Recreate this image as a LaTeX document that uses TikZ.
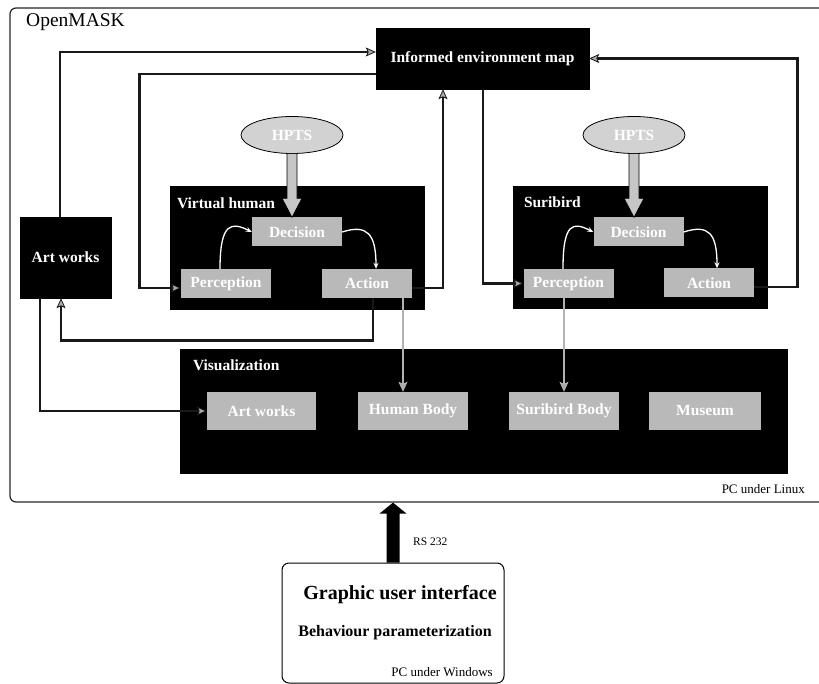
\documentclass[tikz,border=0pt]{standalone}
\usepackage{fontspec}
\setmainfont{Liberation Serif}
\usetikzlibrary{arrows.meta,calc,shapes.geometric}
\newcommand\lblfont{\fontsize{15.5}{17}\selectfont\bfseries}
\begin{document}
\begin{tikzpicture}[x=1pt,y=-1pt,
  bbox/.style={fill=black, draw=black, inner sep=0pt},
  gnode/.style={fill=gray!55, inner sep=0pt, minimum width=90pt, minimum height=29pt, text=white, font=\lblfont},
  hpts/.style={ellipse, fill=gray!35, draw=black, line width=0.8pt, minimum width=102pt, minimum height=37pt, inner sep=0pt, text=white, font=\lblfont},
  ttl/.style={text=white, font=\lblfont, anchor=west, inner sep=0pt},
  plain/.style={inner sep=0pt},
  conn/.style={draw=black!90, line width=2.8pt, -{Stealth[length=10pt,width=9pt,inset=2pt,fill=gray!65,line width=0.8pt]}},
  wcurve/.style={draw=white, line width=1.3pt, -{Stealth[length=6pt,width=5pt]}},
  fat/.style={fill=gray!45, draw=black, line width=0.7pt},
]
\useasboundingbox (0,0) rectangle (819,684);
% outer frame
\node[draw=black!85, line width=1.2pt, rounded corners=6pt, minimum width=830pt, minimum height=494pt, inner sep=0pt] (ob) at (425,255) {};
\node[plain, font=\fontsize{19.5}{21}\selectfont, anchor=west] (om) at (26,22) {OpenMASK};
\node[plain, font=\fontsize{13}{15}\selectfont, anchor=east] (lin) at (805,489) {PC under Linux};

% big black boxes
\node[bbox, minimum width=213pt, minimum height=61pt, text=white, font=\lblfont] (map) at (482.5,58.5) {Informed environment map};
\node[bbox, minimum width=91pt, minimum height=81pt, text=white, font=\lblfont] (art) at (65.5,257.5) {Art works};
\node[bbox, minimum width=254pt, minimum height=123pt] (vh) at (297,247.5) {};
\node[bbox, minimum width=254pt, minimum height=122pt] (sb) at (640,247) {};
\node[bbox, minimum width=607pt, minimum height=124pt] (viz) at (483.5,411) {};
\node[ttl] (vht) at ([shift={(7pt,-17pt)}]vh.north west) {Virtual human};
\node[ttl] (sbt) at ([shift={(11pt,-16pt)}]sb.north west) {Suribird};
\node[ttl] (vzt) at ([shift={(13pt,-16pt)}]viz.north west) {Visualization};

% grey nodes
\node[gnode] (dec1) at (297,232) {Decision};
\node[gnode] (per1) at (226,283.5) {Perception};
\node[gnode] (act1) at (367,283.5) {Action};
\node[gnode] (dec2) at (638.5,232) {Decision};
\node[gnode] (per2) at (568.5,283.5) {Perception};
\node[gnode] (act2) at (709,283) {Action};
\node[gnode, minimum width=109pt, minimum height=38pt] (vart) at (261.5,411) {Art works};
\node[gnode, minimum width=110pt, minimum height=38pt] (vhum) at (413,411) {Human Body};
\node[gnode, minimum width=110pt, minimum height=38pt] (vsur) at (564,411) {Suribird Body};
\node[gnode, minimum width=112pt, minimum height=38pt] (vmus) at (705,411) {Museum};

% HPTS
\node[hpts] (hp1) at (292,135) {HPTS};
\node[hpts] (hp2) at (634,135) {HPTS};
\coordinate (h1t) at (hp1.south |- dec1.north);
\coordinate (h2t) at (hp2.south |- dec2.north);
\filldraw[fat] ($(hp1.south)+(-5,0)$) -- ($(h1t)+(-5,-19)$) -- ($(h1t)+(-10,-19)$) -- (h1t) -- ($(h1t)+(10,-19)$) -- ($(h1t)+(5,-19)$) -- ($(hp1.south)+(5,0)$);
\filldraw[fat] ($(hp2.south)+(-5,0)$) -- ($(h2t)+(-5,-19)$) -- ($(h2t)+(-10,-19)$) -- (h2t) -- ($(h2t)+(10,-19)$) -- ($(h2t)+(5,-19)$) -- ($(hp2.south)+(5,0)$);

% white internal curves
\draw[wcurve] ([xshift=-6pt]per1.north) .. controls +(0,-47) and +(-20,-10) .. (dec1.west);
\draw[wcurve] (dec1.east) .. controls +(25,-8) and +(0,-35) .. ([xshift=9pt]act1.north);
\draw[wcurve] ([xshift=-5.5pt]per2.north) .. controls +(0,-47) and +(-20,-10) .. (dec2.west);
\draw[wcurve] (dec2.east) .. controls +(25,-8) and +(0,-35) .. ([xshift=8pt]act2.north);

% connectors
\draw[conn] ([xshift=-5.5pt]art.north) |- ([yshift=6.5pt]map.west);
\draw[conn] ([yshift=-15.5pt]map.west) -- ++(-236,0) |- ([yshift=-4.5pt]per1.west);
\draw[conn] ([yshift=-4.5pt]act1.east) -| ([xshift=-39.5pt]map.south);
\draw[conn] ([xshift=0.5pt]map.south) |- (per2.west);
\draw[conn] ([yshift=-4pt]act2.east) -- ++(43,0) |- (map.east);
\draw[conn] ([xshift=6pt]act1.south) -- ++(0,42) -| ([xshift=-4.5pt]art.south);
\draw[conn] ([xshift=-25.5pt]art.south) |- (vart.west);
\draw[conn, draw=gray!60] ([xshift=36pt]act1.south) -- ([xshift=-10pt]vhum.north);
\draw[conn, draw=gray!60] ([xshift=-4.5pt]per2.south) -- (vsur.north);

% GUI
\node[draw=black, line width=1pt, rounded corners=7pt, minimum width=222pt, minimum height=120pt, inner sep=0pt] (gui) at (393,623) {};
\node[plain, font=\fontsize{20}{22}\selectfont\bfseries] (g1) at (400,595) {Graphic user interface};
\node[plain, font=\fontsize{16}{18}\selectfont\bfseries] (g2) at (395,633) {Behaviour parameterization};
\node[plain, font=\fontsize{13}{15}\selectfont, anchor=east] (g3) at (493,672) {PC under Windows};
\coordinate (rt) at (gui.north |- ob.south);
\fill[black] ($(gui.north)+(-6.5,0)$) -- ($(rt)+(-6.5,11)$) -- ($(rt)+(-13.5,11)$) -- (rt) -- ($(rt)+(13.5,11)$) -- ($(rt)+(6.5,11)$) -- ($(gui.north)+(6.5,0)$) -- cycle;
\node[plain, font=\fontsize{11.5}{13}\selectfont, anchor=west] (rs) at (413,542) {RS 232};
\end{tikzpicture}
\end{document}
